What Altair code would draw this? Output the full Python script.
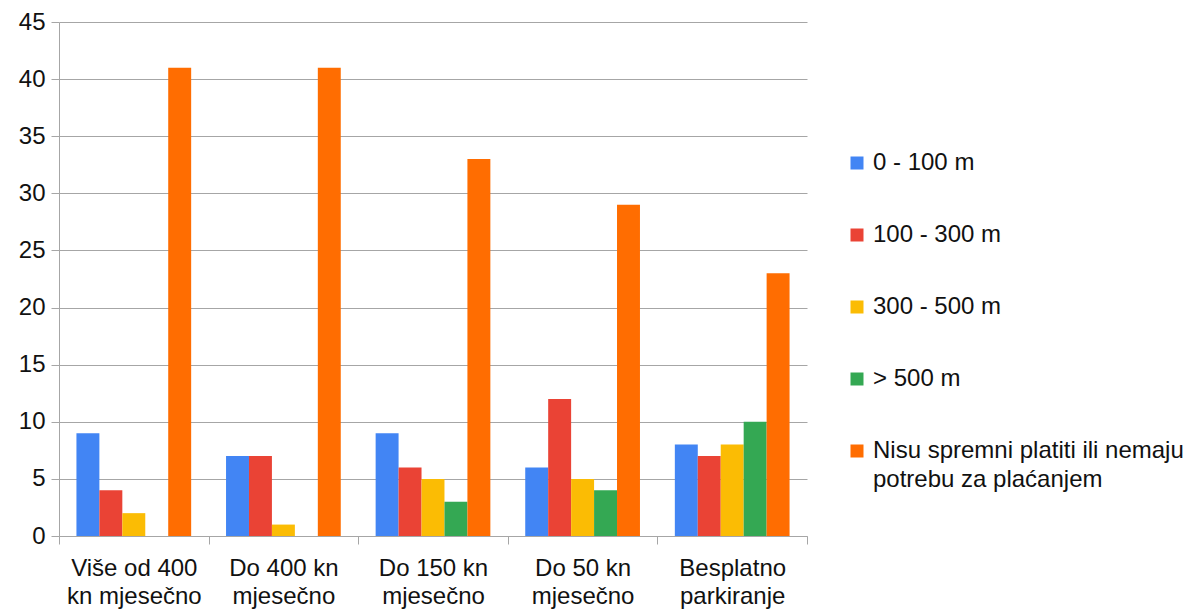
import altair as alt
import pandas as pd

categories = [
    "Više od 400\nkn mjesečno",
    "Do 400 kn\nmjesečno",
    "Do 150 kn\nmjesečno",
    "Do 50 kn\nmjesečno",
    "Besplatno\nparkiranje",
]
series = [
    "0 - 100 m",
    "100 - 300 m",
    "300 - 500 m",
    "> 500 m",
    "Nisu spremni platiti ili nemaju potrebu za plaćanjem",
]
colors = ["#4285F4", "#EA4335", "#FBBC04", "#34A853", "#FF6D01"]

v_0_100 = [9, 7, 9, 6, 8]
v_100_300 = [4, 7, 6, 12, 7]
v_300_500 = [2, 1, 5, 5, 8]
v_500 = [0, 0, 3, 4, 10]
v_nisu = [41, 41, 33, 29, 23]

values = [v_0_100, v_100_300, v_300_500, v_500, v_nisu]
rows = []
for s, vals in zip(series, values):
    for c, v in zip(categories, vals):
        rows.append({"cat": c, "series": s, "value": v})
df = pd.DataFrame(rows)

FONT = "Liberation Sans"
GRID = "#a6a6a6"
FS = 24

chart = (
    alt.Chart(df)
    .mark_bar()
    .encode(
        x=alt.X(
            "cat:N",
            sort=categories,
            scale=alt.Scale(paddingInner=0, paddingOuter=0),
            axis=alt.Axis(
                title=None,
                labelAngle=0,
                labelFont=FONT,
                labelFontSize=FS,
                labelColor="#111111",
                labelExpr="split(datum.label, '\\n')",
                labelLineHeight=28,
                labelPadding=12,
                labelBaseline="top",
                tickBand="extent",
                tickSize=8,
                tickColor=GRID,
                domainColor=GRID,
                grid=False,
            ),
        ),
        xOffset=alt.XOffset(
            "series:N",
            sort=series,
            scale=alt.Scale(paddingInner=0, paddingOuter=0.76),
        ),
        y=alt.Y(
            "value:Q",
            scale=alt.Scale(domain=[0, 45], nice=False),
            axis=alt.Axis(
                title=None,
                values=list(range(0, 50, 5)),
                labelFont=FONT,
                labelFontSize=FS,
                labelColor="#111111",
                labelPadding=6,
                tickSize=8,
                tickColor=GRID,
                domainColor=GRID,
                gridColor=GRID,
                gridOpacity=1,
            ),
        ),
        color=alt.Color(
            "series:N",
            sort=series,
            scale=alt.Scale(domain=series, range=colors),
            legend=alt.Legend(
                title=None,
                orient="none",
                legendX=786,
                legendY=129,
                padding=0,
                symbolType="square",
                symbolSize=169,
                symbolStrokeWidth=0,
                symbolOpacity=1,
                labelFont=FONT,
                labelFontSize=FS,
                labelColor="#111111",
                labelOffset=4,
                labelLimit=400,
                rowPadding=48,
                labelExpr="datum.label == 'Nisu spremni platiti ili nemaju potrebu za plaćanjem' ? ['Nisu spremni platiti ili nemaju', 'potrebu za plaćanjem'] : datum.label",
            ),
        ),
    )
    .properties(
        width=748,
        height=514,
        autosize=alt.AutoSizeParams(type="none"),
        padding={"left": 51, "top": 14, "right": 380, "bottom": 78},
    )
    .configure(style={"guide-label": {"lineHeight": 29}})
    .configure_view(stroke=None)
)

chart.save("out.html", embed_options={"renderer": "svg", "actions": False})
